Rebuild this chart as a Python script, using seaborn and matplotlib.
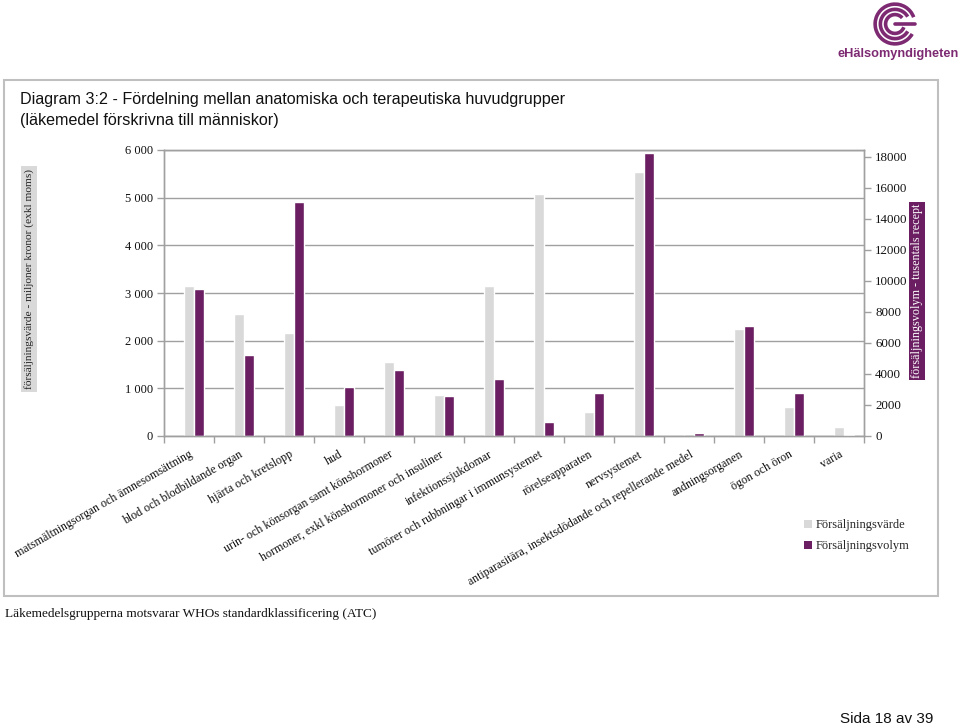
import numpy as np
import pandas as pd
import matplotlib
matplotlib.use('Agg')
import matplotlib.pyplot as plt
import seaborn as sns
from matplotlib.patches import Rectangle, Arc, Patch

# data
categories = [
    'matsmältningsorgan och ämnesomsättning',
    'blod och blodbildande organ',
    'hjärta och kretslopp',
    'hud',
    'urin- och könsorgan samt könshormoner',
    'hormoner, exkl könshormoner och insuliner',
    'infektionssjukdomar',
    'tumörer och rubbningar i immunsystemet',
    'rörelseapparaten',
    'nervsystemet',
    'antiparasitära, insektsdödande och repellerande medel',
    'andningsorganen',
    'ögon och öron',
    'varia',
]
series = ['Försäljningsvärde', 'Försäljningsvolym']
varde = [3145, 2558, 2166, 650, 1545, 853, 3145, 5073, 510, 5541, 40, 2250, 615, 182]
volym = [9500, 5225, 15093, 3160, 4257, 2560, 3677, 903, 2795, 18274, 215, 7075, 2795, 85]
left_ticks = [0, 1000, 2000, 3000, 4000, 5000, 6000]
right_ticks = [0, 2000, 4000, 6000, 8000, 10000, 12000, 14000, 16000, 18000]

GRAY = '#d9d9d9'
PURPLE = '#6b1f62'
LINE = '#a0a0a0'
SERIF = ['Liberation Serif', 'DejaVu Serif']
SANS = ['Liberation Sans', 'DejaVu Sans']

n = len(categories)
df = pd.DataFrame({
    'grupp': categories * 2,
    'serie': [series[0]] * n + [series[1]] * n,
    'varde': varde + [np.nan] * n,
    'volym': [np.nan] * n + volym,
})

sns.set_theme(style='white')
plt.rcParams['font.family'] = SERIF

fig = plt.figure(figsize=(9.6, 7.28), dpi=100)
ax = fig.add_axes([164 / 960, 1 - 436 / 728, 700 / 960, 286 / 728])
ax2 = ax.twinx()

sns.barplot(data=df, x='grupp', y='varde', hue='serie', hue_order=series,
            palette=[GRAY, PURPLE], width=0.4, dodge=True, saturation=1,
            errorbar=None, legend=False, ax=ax)
sns.barplot(data=df, x='grupp', y='volym', hue='serie', hue_order=series,
            palette=[GRAY, PURPLE], width=0.4, dodge=True, saturation=1,
            errorbar=None, legend=False, ax=ax2)

# category slots: gray bar sits in the middle, purple right beside it
ax.set_xlim(-0.6, n - 0.6)
ax.set_xticks(np.arange(n) - 0.1)
ax.set_xticklabels(categories, rotation=30, ha='right', va='top',
                   rotation_mode='anchor', fontsize=8.6, family=SERIF, color='#111111')
ax.set_xticks(np.arange(n + 1) - 0.6, minor=True)
ax.tick_params(axis='x', which='major', length=0, pad=9)
ax.tick_params(axis='x', which='minor', length=5, color=LINE, width=1, bottom=True)

ax.set_ylim(0, 6000)
ax.set_yticks(left_ticks)
ax.set_yticklabels([f'{v:,}'.replace(',', ' ') for v in left_ticks], fontsize=9, color='#111111')
ax.tick_params(axis='y', length=5, color=LINE, width=1, left=True, pad=3)
ax.yaxis.grid(True, color=LINE, lw=1)
ax.set_axisbelow(True)

ax2.set_ylim(0, 18450)
ax2.set_yticks(right_ticks)
ax2.set_yticklabels([str(v) for v in right_ticks], fontsize=9.3, color='#111111')
ax2.tick_params(axis='y', length=5, color=LINE, width=1, right=True, pad=3)

ax.set_xlabel('')
ax.set_ylabel('')
ax2.set_ylabel('')
for a in (ax, ax2):
    for s in a.spines.values():
        s.set_color(LINE)
        s.set_linewidth(1)

# axis titles as boxed labels
fig.text(29 / 960, 1 - 279 / 728, 'försäljningsvärde - miljoner kronor (exkl moms)',
         rotation=90, ha='center', va='center', fontsize=8.2, color='#222222',
         bbox=dict(facecolor=GRAY, edgecolor='none', pad=2))
fig.text(917 / 960, 1 - 291 / 728, 'försäljningsvolym - tusentals recept',
         rotation=90, ha='center', va='center', fontsize=8.7, color='white',
         bbox=dict(facecolor=PURPLE, edgecolor='none', pad=1.5))

# title
fig.text(20 / 960, 1 - 92 / 728,
         'Diagram 3:2 - Fördelning mellan anatomiska och terapeutiska huvudgrupper\n'
         '(läkemedel förskrivna till människor)',
         ha='left', va='top', fontsize=11.6, family=SANS, color='#111111', linespacing=1.5)

# legend
handles = [Patch(facecolor=GRAY, edgecolor='none'), Patch(facecolor=PURPLE, edgecolor='none')]
fig.legend(handles, series, loc='upper left', bbox_to_anchor=(798 / 960, 1 - 513 / 728),
           frameon=False, fontsize=9, handlelength=0.6, handleheight=0.6,
           handletextpad=0.3, labelspacing=0.7, borderpad=0)

# outer chart frame
fig.patches.append(Rectangle((4 / 960, 1 - 596 / 728), 934 / 960, 516 / 728,
                             transform=fig.transFigure, fill=False,
                             edgecolor='#bfbfbf', lw=1.5))

# footer texts
fig.text(5 / 960, 1 - 614 / 728,
         'Läkemedelsgrupperna motsvarar WHOs standardklassificering (ATC)',
         ha='left', va='center', fontsize=9.5, color='#111111')
fig.text(933 / 960, 1 - 719 / 728, 'Sida 18 av 39', ha='right', va='center',
         fontsize=11, family=SANS, color='#111111')

# logo
LOGO = '#7d2a72'
lax = fig.add_axes([872 / 960, 1 - 46 / 728, 46 / 960, 44 / 728])
lax.set_xlim(-1.1, 1.1)
lax.set_ylim(-1.05, 1.05)
lax.set_aspect('equal')
lax.axis('off')
for r, a0, a1 in [(0.95, 20, 330), (0.7, 30, 330), (0.45, 40, 340)]:
    lax.add_patch(Arc((0, 0), 2 * r, 2 * r, theta1=a0, theta2=a1, color=LOGO, lw=2.6))
lax.plot([0.0, 0.95], [0.0, 0.0], color=LOGO, lw=2.6)
fig.text(898 / 960, 1 - 54 / 728, 'eHälsomyndigheten', ha='center', va='center',
         fontsize=9.2, fontweight='bold', family=SANS, color=LOGO)

fig.savefig('out.png', dpi=100)
